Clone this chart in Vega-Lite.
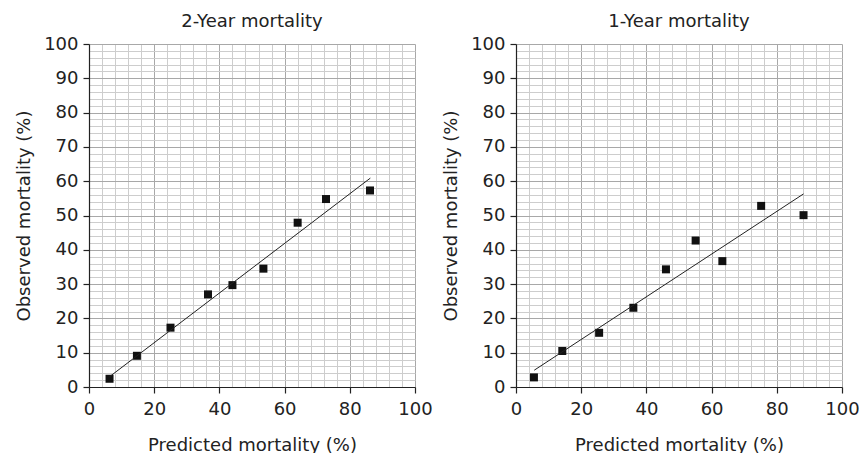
{
  "$schema": "https://vega.github.io/schema/vega-lite/v6.json",
  "padding": {"left": 15, "top": 13, "right": 5, "bottom": 5},
  "background": "white",
  "datasets": {
    "pts2": [
      {"pred": 6.3, "obs": 2.4},
      {"pred": 14.7, "obs": 9.1},
      {"pred": 25.0, "obs": 17.3},
      {"pred": 36.5, "obs": 27.0},
      {"pred": 44.0, "obs": 29.7},
      {"pred": 53.5, "obs": 34.5},
      {"pred": 64.0, "obs": 47.9},
      {"pred": 72.7, "obs": 54.8},
      {"pred": 86.2, "obs": 57.3}
    ],
    "fit2": [
      {"pred": 6.3, "obs": 3.0},
      {"pred": 86.3, "obs": 60.9}
    ],
    "pts1": [
      {"pred": 5.5, "obs": 2.8},
      {"pred": 14.2, "obs": 10.5},
      {"pred": 25.5, "obs": 15.8},
      {"pred": 36.0, "obs": 23.1},
      {"pred": 46.0, "obs": 34.3},
      {"pred": 55.1, "obs": 42.7},
      {"pred": 63.3, "obs": 36.7},
      {"pred": 75.2, "obs": 52.8},
      {"pred": 88.2, "obs": 50.1}
    ],
    "fit1": [
      {"pred": 5.6, "obs": 4.9},
      {"pred": 88.2, "obs": 56.3}
    ]
  },
  "config": {
    "font": "DejaVu Sans",
    "view": {"stroke": null},
    "axis": {
      "labelFont": "DejaVu Sans",
      "titleFont": "DejaVu Sans",
      "labelFontSize": 18,
      "titleFontSize": 18,
      "titleFontWeight": "normal",
      "labelColor": "#222",
      "titleColor": "#222",
      "domainColor": "#222",
      "domainWidth": 1.2,
      "tickSize": 6,
      "tickWidth": 1.2,
      "tickColor": "#222",
      "tickCount": 200,
      "format": "d",
      "gridWidth": 1,
      "labelOverlap": false,
      "labelBound": false,
      "labelFlush": false
    },
    "title": {"font": "DejaVu Sans", "fontSize": 18, "fontWeight": "normal", "color": "#222", "frame": "group", "anchor": "middle", "offset": 4}
  },
  "hconcat": [
    {
      "title": "2-Year mortality",
      "width": 326,
      "height": 343,
      "layer": [
        {
          "data": {"name": "pts2"},
          "mark": {"type": "square", "size": 64, "color": "#111", "opacity": 1},
          "encoding": {
            "x": {"field": "pred", "type": "quantitative", "scale": {"domain": [0, 100], "nice": false},
              "axis": {"title": "Predicted mortality (%)", "tickCount": 200, "format": "d", "values": [0,4,8,12,16,20,24,28,32,36,40,44,48,52,56,60,64,68,72,76,80,84,88,92,96,100],
                "labelExpr": "datum.value % 20 === 0 ? datum.label : ''", "labelPadding": 7, "titlePadding": 18,
                "tickOpacity": {"condition": {"test": "datum.value % 20 === 0", "value": 1}, "value": 0},
                "gridColor": {"condition": {"test": "datum.value % 20 === 0", "value": "#a8a8a8"}, "value": "#cdcdcd"}}},
            "y": {"field": "obs", "type": "quantitative", "scale": {"domain": [0, 100], "nice": false},
              "axis": {"title": "Observed mortality (%)", "tickCount": 200, "format": "d", "values": [0,2,4,6,8,10,12,14,16,18,20,22,24,26,28,30,32,34,36,38,40,42,44,46,48,50,52,54,56,58,60,62,64,66,68,70,72,74,76,78,80,82,84,86,88,90,92,94,96,98,100],
                "labelExpr": "datum.value % 10 === 0 ? datum.label : ''", "labelPadding": 5, "titlePadding": 10,
                "tickOpacity": {"condition": {"test": "datum.value % 10 === 0", "value": 1}, "value": 0},
                "gridColor": {"condition": {"test": "datum.value % 10 === 0", "value": "#a8a8a8"}, "value": "#cdcdcd"}}}
          }
        },
        {
          "data": {"name": "fit2"},
          "mark": {"type": "line", "color": "#222", "strokeWidth": 1},
          "encoding": {
            "x": {"field": "pred", "type": "quantitative"},
            "y": {"field": "obs", "type": "quantitative"}
          }
        }
      ]
    },
    {
      "title": "1-Year mortality",
      "width": 326,
      "height": 343,
      "layer": [
        {
          "data": {"name": "pts1"},
          "mark": {"type": "square", "size": 64, "color": "#111", "opacity": 1},
          "encoding": {
            "x": {"field": "pred", "type": "quantitative", "scale": {"domain": [0, 100], "nice": false},
              "axis": {"title": "Predicted mortality (%)", "tickCount": 200, "format": "d", "values": [0,4,8,12,16,20,24,28,32,36,40,44,48,52,56,60,64,68,72,76,80,84,88,92,96,100],
                "labelExpr": "datum.value % 20 === 0 ? datum.label : ''", "labelPadding": 7, "titlePadding": 18,
                "tickOpacity": {"condition": {"test": "datum.value % 20 === 0", "value": 1}, "value": 0},
                "gridColor": {"condition": {"test": "datum.value % 20 === 0", "value": "#a8a8a8"}, "value": "#cdcdcd"}}},
            "y": {"field": "obs", "type": "quantitative", "scale": {"domain": [0, 100], "nice": false},
              "axis": {"title": "Observed mortality (%)", "tickCount": 200, "format": "d", "values": [0,2,4,6,8,10,12,14,16,18,20,22,24,26,28,30,32,34,36,38,40,42,44,46,48,50,52,54,56,58,60,62,64,66,68,70,72,74,76,78,80,82,84,86,88,90,92,94,96,98,100],
                "labelExpr": "datum.value % 10 === 0 ? datum.label : ''", "labelPadding": 5, "titlePadding": 10,
                "tickOpacity": {"condition": {"test": "datum.value % 10 === 0", "value": 1}, "value": 0},
                "gridColor": {"condition": {"test": "datum.value % 10 === 0", "value": "#a8a8a8"}, "value": "#cdcdcd"}}}
          }
        },
        {
          "data": {"name": "fit1"},
          "mark": {"type": "line", "color": "#222", "strokeWidth": 1},
          "encoding": {
            "x": {"field": "pred", "type": "quantitative"},
            "y": {"field": "obs", "type": "quantitative"}
          }
        }
      ]
    }
  ],
  "spacing": 9
}
